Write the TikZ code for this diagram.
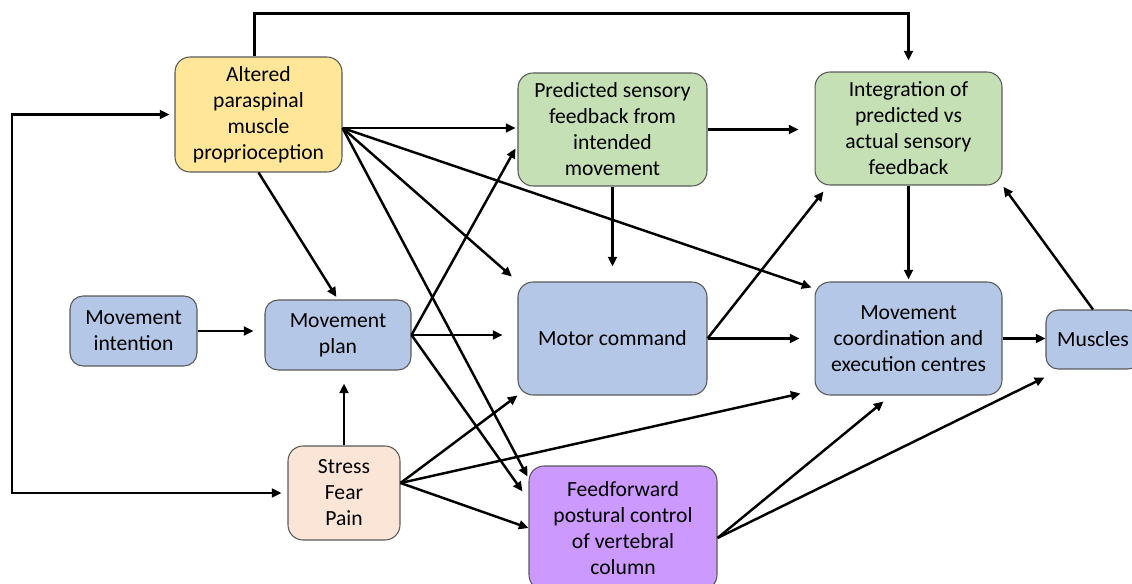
\documentclass[tikz,border=0pt]{standalone}
\usepackage{fontspec}
\setmainfont{Carlito}
\usetikzlibrary{arrows.meta,calc}

\definecolor{propyellow}{HTML}{FFE699}
\definecolor{predgreen}{HTML}{C5E0B4}
\definecolor{planblue}{HTML}{B4C7E7}
\definecolor{stresspeach}{HTML}{FBE5D6}
\definecolor{ffpurple}{HTML}{CC99FF}

\tikzset{
	box/.style={rectangle, rounded corners=0.3cm, draw=black!65, line width=0.6pt, align=center, inner sep=1pt, font=\fontsize{12.3}{14.8}\selectfont},
	link/.style={->, line width=1.4pt},
}

\begin{document}
\begin{tikzpicture}[x=0.02cm, y=-0.02cm, >={Triangle[length=5.5pt, width=5pt]}]
		\clip (0, 0) rectangle (1132, 584);
		
		% Boxes
		\node[box, fill=propyellow, minimum width=3.34cm, minimum height=2.3cm] (alt) at (258.5, 114.5) {Altered\\paraspinal\\muscle\\proprioception};
		\node[box, fill=predgreen, minimum width=3.78cm, minimum height=2.26cm] (pred) at (612.5, 129.5) {Predicted sensory\\feedback from\\intended\\movement};
		\node[box, fill=predgreen, minimum width=3.74cm, minimum height=2.26cm] (integ) at (908.5, 128.5) {Integration of\\predicted vs\\actual sensory\\feedback};
		\node[box, fill=planblue, minimum width=2.54cm, minimum height=1.4cm, rounded corners=0.26cm] (intent) at (133.5, 331) {Movement\\intention};
		\node[box, fill=planblue, minimum width=2.92cm, minimum height=1.4cm, rounded corners=0.26cm] (plan) at (338, 335) {Movement\\plan};
		\node[box, fill=planblue, minimum width=3.78cm, minimum height=2.26cm] (motor) at (612.5, 338.5) {Motor command};
		\node[box, fill=planblue, minimum width=3.74cm, minimum height=2.26cm] (coord) at (908.5, 338.5) {Movement\\coordination and\\execution centres};
		\node[box, fill=planblue, minimum width=1.88cm, minimum height=1.18cm, rounded corners=0.24cm] (muscles) at (1093, 339.5) {Muscles};
		\node[box, fill=stresspeach, minimum width=2.24cm, minimum height=1.88cm] (stress) at (344, 493) {Stress\\Fear\\Pain};
		\node[box, fill=ffpurple, minimum width=3.76cm, minimum height=2.48cm] (ff) at (623, 528) {Feedforward\\postural control\\of vertebral\\column};
		
		% Fan points
		\coordinate (altout) at ($(alt.east)+(0, 13.5)$);
		\coordinate (stressout) at ($(stress.east)+(0, -10)$);
		\coordinate (ffout) at ($(ff.east)+(0, 10)$);
		\coordinate (loop) at (12, 493);
		
		% Connect
		\draw[link, shorten >=0.22cm] ($(alt.north)+(-4, 0)$) -- ++(0, -43) -| (integ.north);
		\draw[<->, line width=1.4pt, shorten <=0.1cm, shorten >=0.12cm] (alt.west) -| (loop) -- (stress.west);
		
		\draw[link, shorten >=0.04cm] (altout) -- (altout -| pred.west);
		\draw[link, shorten >=0.15cm] (altout) -- (motor.north west);
		\draw[link] (altout) -- ($(coord.north west)+(-3, 6)$);
		\draw[link] (altout) -- ($(ff.north west)+(-1, 11)$);
		\draw[link, shorten >=0.06cm] (alt.south) -- (plan.north);
		
		\draw[link, shorten >=0.32cm] (pred.east) -- (pred.east -| integ.west);
		\draw[link, shorten >=0.3cm] (pred.south) -- (pred.south |- motor.north);
		\draw[link, shorten >=0.04cm] (integ.south) -- (coord.north);
		
		\draw[link, shorten >=0.22cm] (intent.east) -- (intent.east -| plan.west);
		\draw[link, shorten >=0.26cm] (stress.north) -- (stress.north |- plan.south);
		\draw[link] (plan.east) -- ($(pred.west)+(-2, 19)$);
		\draw[link, shorten >=0.3cm] (plan.east) -- (plan.east -| motor.west);
		\draw[link] (plan.east) -- ($(ff.north west)+(-6, 26)$);
		
		\draw[link, shorten >=0.3cm] (motor.east) -- (motor.east -| coord.west);
		\draw[link] (motor.east) -- ($(integ.south west)+(9, 6)$);
		\draw[link] (coord.east) -- (coord.east -| muscles.west);
		\draw[link, shorten >=0.03cm] (muscles.north) -- (integ.south east);
		
		\draw[link] (stressout) -- (motor.south west);
		\draw[link] (stressout) -- ($(coord.south west)+(-14, -2)$);
		\draw[link] (stressout) -- (ff.west);
		\draw[link] (ffout) -- ($(coord.south)+(-25, 6)$);
		\draw[link] (ffout) -- ($(muscles.south west)+(-1, 8)$);
		
	\end{tikzpicture}
\end{document}
